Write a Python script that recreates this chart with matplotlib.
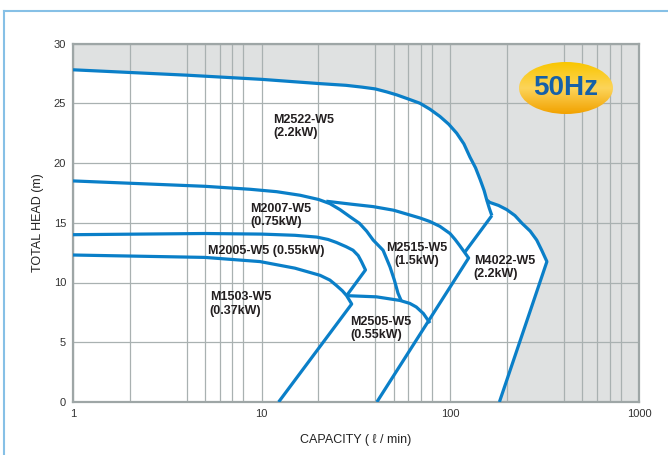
import numpy as np
import matplotlib.pyplot as plt
from matplotlib.patches import Ellipse
from matplotlib.lines import Line2D
from matplotlib.colors import LinearSegmentedColormap

plt.rcParams['font.family'] = ['Liberation Sans', 'DejaVu Sans']

# ---- data (capacity l/min, head m) ----
m2522_q = [1, 4, 10, 20, 28, 34, 40, 46, 52, 60, 69, 78, 88, 98, 108, 118, 127, 136, 144, 151, 156, 161, 166]
m2522_h = [27.8, 27.35, 27.0, 26.65, 26.5, 26.35, 26.2, 25.95, 25.7, 25.35, 25.0, 24.5, 23.9, 23.25,
           22.5, 21.6, 20.5, 19.6, 18.6, 17.7, 16.9, 16.2, 15.6]
m2522_low_q = [166, 119.5]
m2522_low_h = [15.6, 12.55]

m4022_q = [156, 162, 180, 199, 220, 240, 265, 287, 305, 325, 182]
m4022_h = [16.9, 16.7, 16.45, 16.1, 15.6, 14.95, 14.3, 13.55, 12.7, 11.75, 0]

m2007_q = [1, 5, 8.7, 12, 16, 20, 23, 26, 29.4, 33, 36, 39, 44, 47.9, 50.5, 52.8, 55]
m2007_h = [18.5, 18.05, 17.8, 17.6, 17.3, 16.95, 16.6, 16.1, 15.5, 14.95, 14.3, 13.55, 12.7, 11.3,
           10.2, 9.1, 8.45]

m2515_q = [22, 30, 39, 50, 61, 69, 78, 88, 99.6, 106, 112, 118, 125, 40.8]
m2515_h = [16.8, 16.55, 16.35, 16.05, 15.65, 15.4, 15.1, 14.7, 14.1, 13.6, 13.1, 12.6, 12.05, 0]

m2005_q = [1, 5, 10, 15, 19.6, 22.5, 24.9, 28, 30.5, 32.5, 33.8, 35.5, 28.2]
m2005_h = [14.0, 14.1, 14.05, 13.95, 13.8, 13.6, 13.35, 13.0, 12.7, 12.25, 11.75, 11.05, 8.9]

m2505_q = [28.2, 40.6, 54, 61, 66, 72, 78]
m2505_h = [8.9, 8.8, 8.5, 8.25, 7.95, 7.4, 6.6]

m1503_q = [1, 5, 9.8, 15, 20.4, 23, 24.9, 26.8, 28.2, 30, 12.3]
m1503_h = [12.3, 12.1, 11.75, 11.2, 10.6, 10.2, 9.75, 9.3, 8.9, 8.2, 0]

labels = ['M2522-W5\n(2.2kW)', 'M2007-W5\n(0.75kW)', 'M2005-W5 (0.55kW)', 'M1503-W5\n(0.37kW)',
          'M2515-W5\n(1.5kW)', 'M4022-W5\n(2.2kW)', 'M2505-W5\n(0.55kW)']
label_q = [11.5, 8.7, 5.2, 5.3, 66.3, 133, 29.4]
label_h = [24.1, 16.65, 13.1, 9.25, 13.4, 12.3, 7.22]
label_ha = ['left', 'left', 'left', 'left', 'center', 'left', 'left']

major_ticks = [1, 10, 100, 1000]
minor_ticks = [m * 10 ** k for k in range(3) for m in (2, 4, 5, 6, 7, 8)]
y_ticks = [0, 5, 10, 15, 20, 25, 30]

blue = '#0a7fc8'
grid_c = '#a9b1b1'

fig = plt.figure(figsize=(6.68, 4.55), dpi=100)
ax = fig.add_axes([73 / 668, (455 - 402) / 455, (639 - 73) / 668, (402 - 43.5) / 455])
ax.set_facecolor('#dfe1e1')
ax.set_xscale('log')
ax.set_xlim(1, 1000)
ax.set_ylim(0, 30)

# white operating area under the outer envelope
i_env = m2522_q.index(156)
env_q = m2522_q[:i_env + 1] + m4022_q[1:] + [1]
env_h = m2522_h[:i_env + 1] + m4022_h[1:] + [0]
ax.fill(env_q, env_h, color='white', lw=0, zorder=1)

# grid
ax.set_xticks(major_ticks)
ax.set_xticklabels(['1', '10', '100', '1000'])
ax.set_xticks(minor_ticks, minor=True)
ax.xaxis.set_minor_formatter(plt.NullFormatter())
ax.set_yticks(y_ticks)
ax.grid(True, which='both', color=grid_c, lw=0.9)
ax.tick_params(which='both', length=0, labelsize=8, colors='#333333')
ax.tick_params(axis='x', pad=5)
ax.tick_params(axis='y', pad=5)
for s in ax.spines.values():
    s.set_color('#9ea6a6')
    s.set_linewidth(1.6)

# curves
lw = 2.3
for q, h in [(m2522_q, m2522_h), (m2522_low_q, m2522_low_h), (m4022_q, m4022_h),
             (m2007_q, m2007_h), (m2515_q, m2515_h), (m2005_q, m2005_h),
             (m2505_q, m2505_h), (m1503_q, m1503_h)]:
    ax.plot(q, h, color=blue, lw=lw, solid_joinstyle='round', solid_capstyle='butt', zorder=3)

for t, q, h, ha in zip(labels, label_q, label_h, label_ha):
    ax.text(q, h, t, ha=ha, va='top', fontsize=9, fontweight='bold', color='#231f20',
            linespacing=1.15, multialignment=ha, zorder=4)

ax.set_xlabel('CAPACITY ( ℓ / min)', fontsize=9, color='#222222', labelpad=11)
ax.set_ylabel('TOTAL HEAD (m)', fontsize=9, color='#222222', labelpad=7)

# 50Hz badge
bax = fig.add_axes([519 / 668, (455 - 114) / 455, 94 / 668, 52 / 455])
bax.set_xlim(0, 1)
bax.set_ylim(0, 1)
bax.axis('off')
cmap = LinearSegmentedColormap.from_list('badge', ['#f2a200', '#fcd45a', '#f9c600'])
grad = np.linspace(0, 1, 100).reshape(-1, 1)
img = bax.imshow(grad, extent=[0, 1, 0, 1], origin='lower', cmap=cmap, aspect='auto')
ell = Ellipse((0.5, 0.5), 1.0, 1.0, transform=bax.transAxes, facecolor='none', edgecolor='none')
bax.add_patch(ell)
img.set_clip_path(ell)
bax.text(0.5, 0.5, '50Hz', ha='center', va='center', fontsize=20, fontweight='bold',
         color='#1560a8')

# outer frame
frame_c = '#86c0e6'
fig.add_artist(Line2D([4 / 668, 4 / 668], [0, 1 - 11 / 455], transform=fig.transFigure, color=frame_c, lw=1.5))
fig.add_artist(Line2D([4 / 668, 1], [1 - 11 / 455, 1 - 11 / 455], transform=fig.transFigure, color=frame_c, lw=1.5))

fig.savefig('out.png', dpi=100)
